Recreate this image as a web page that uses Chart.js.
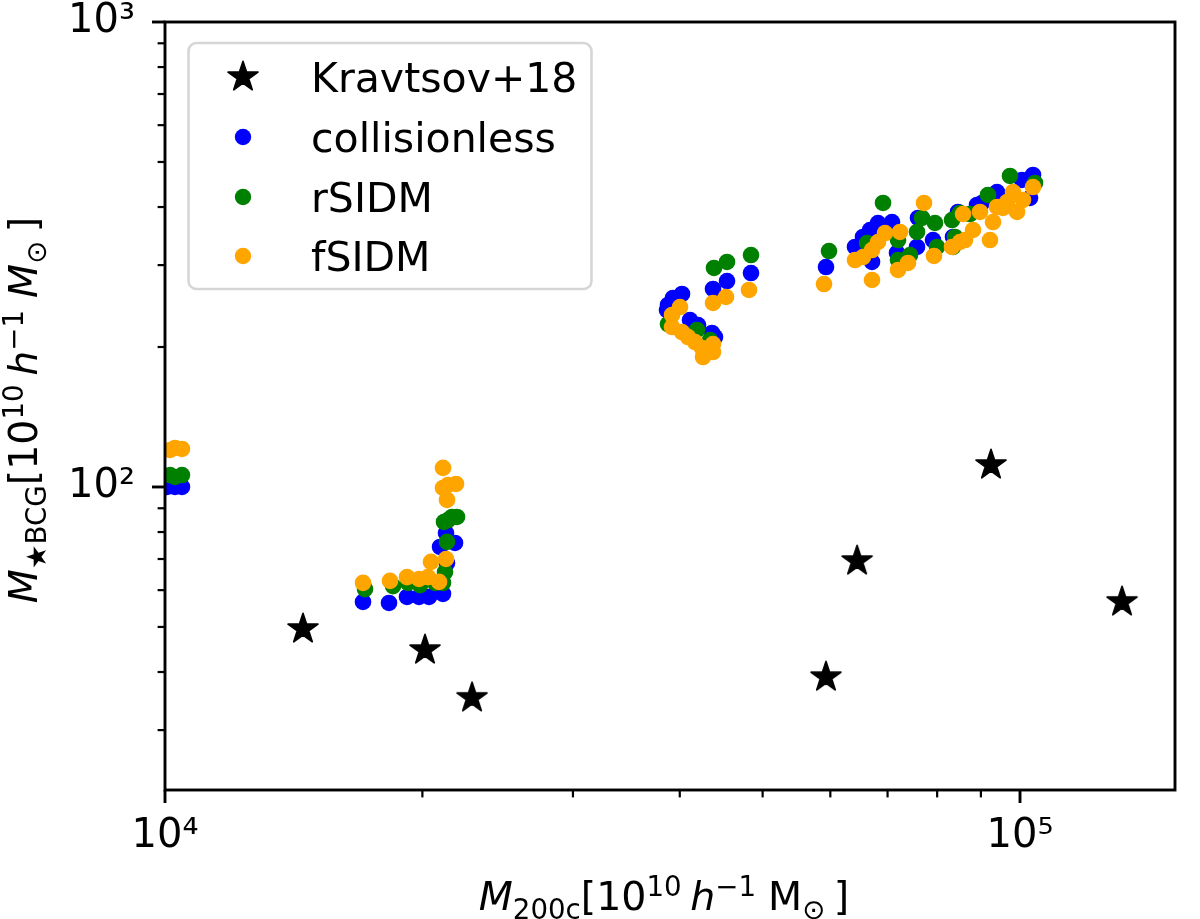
<!DOCTYPE html>
<html>
<head>
<meta charset="utf-8">
<script src="https://cdn.jsdelivr.net/npm/chart.js@4.4.1/dist/chart.umd.min.js"></script>
<style>
html,body{margin:0;padding:0;background:#ffffff;}
#wrap{width:1200px;height:919px;position:relative;}
</style>
</head>
<body>
<div id="wrap"><canvas id="c"></canvas></div>
<script>
// ---------------- data ----------------
const seriesLabels = ['Kravtsov+18', 'collisionless', 'rSIDM', 'fSIDM'];
const seriesColors = ['#000000', '#0000ff', '#008000', '#ffa500'];

const kravtsovX = [14500, 20140, 22860, 59300, 64480, 92480, 131630];
const kravtsovY = [49.5, 44.6, 35.2, 39.0, 69.3, 111.5, 56.6];

const collisionlessX = [10054, 10273, 10468, 17044, 18281, 19189, 19819, 20360, 21142, 20973, 21837, 21314, 21371,
  40242, 39279, 38753, 38649, 41119, 42014, 43628, 43982, 43746, 45427, 48460,
  59306, 64124, 65520, 66767, 68221, 70842, 67128, 71803, 75776, 75981, 79113, 83492, 84623, 89065, 90273, 93994, 100540, 103563, 102730];
const collisionlessY = [100.0, 100.0, 100.0, 56.6, 56.3, 58.0, 58.0, 58.0, 58.9, 74.3, 75.8, 79.6, 68.6,
  260.1, 255.0, 246.3, 240.2, 228.6, 223.0, 214.4, 210.1, 266.6, 277.3, 288.5,
  297.2, 328.2, 344.9, 357.0, 369.6, 371.4, 304.7, 318.6, 328.2, 378.9, 339.7, 344.9, 390.3, 404.1, 408.1, 430.9, 457.3, 468.8, 418.3];

const rSIDMX = [10136, 10273, 10468, 17136, 18479, 19241, 19873, 20691, 21142, 21257, 21371, 21429, 21954, 21661, 21199,
  38753, 41901, 43394, 43864, 45427, 48460,
  59788, 69146, 66230, 71997, 75776, 76804, 79540, 74361, 71997, 79970, 83266, 83942, 85079, 87400, 91744, 97343, 104123, 83492];
const rSIDMY = [106.1, 105.1, 106.1, 60.3, 61.2, 62.2, 61.5, 62.2, 62.2, 65.6, 76.2, 84.9, 86.2, 86.2, 84.1,
  224.1, 217.6, 207.0, 295.8, 304.7, 315.4,
  321.7, 408.1, 334.7, 339.7, 353.5, 378.9, 369.6, 315.4, 307.7, 328.2, 375.1, 344.9, 388.4, 386.4, 424.6, 466.5, 450.6, 328.2];

const fSIDMX = [10136, 10273, 10468, 17044, 18330, 19189, 19819, 20305, 20916, 20470, 21314, 21142, 21142, 21429, 21896, 21371,
  40026, 39173, 39173, 40242, 40898, 41676, 42469, 42584, 43746, 43746, 43746, 45305, 48199,
  58988, 64124, 65520, 67128, 68221, 69519, 72385, 77218, 71997, 73961, 67128, 79326, 83266, 85079, 85769, 88111, 89787,
  92987, 86233, 92238, 93994, 96559, 98133, 100811, 103563, 99195, 95525];
const fSIDMY = [120.1, 121.3, 120.7, 62.2, 62.8, 64.0, 63.4, 64.0, 62.5, 69.0, 70.0, 109.9, 99.5, 101.0, 101.5, 93.8,
  243.8, 234.4, 220.8, 215.4, 210.1, 205.0, 199.0, 190.3, 195.1, 203.0, 248.7, 256.2, 265.3,
  273.2, 307.7, 312.3, 323.3, 336.4, 351.7, 353.5, 408.1, 292.9, 303.2, 278.7, 313.9, 328.2, 336.4, 386.4, 357.0, 390.3,
  371.4, 339.7, 339.7, 400.1, 410.1, 430.9, 414.2, 441.7, 390.3, 398.1];

const xRange = [10000, 151800];
const yRange = [22.3, 1000];
const xMajorTicks = [10000, 100000];
const xMinorTicks = [20000, 30000, 40000, 50000, 60000, 70000, 80000, 90000];
const yMajorTicks = [100, 1000];
const yMinorTicks = [30, 40, 50, 60, 70, 80, 90, 200, 300, 400, 500, 600, 700, 800, 900];
const xTickLabels = {10000: '10\u2074', 100000: '10\u2075'};
const yTickLabels = {100: '10\u00b2', 1000: '10\u00b3'};

// ---------------- helpers ----------------
const FONT = '"DejaVu Sans", "Liberation Sans", sans-serif';
Chart.defaults.font.family = FONT;

function makeStar(R) {
  const size = Math.ceil(R * 2 + 6);
  const c = document.createElement('canvas');
  c.width = size; c.height = size;
  const g = c.getContext('2d');
  g.translate(size / 2, size / 2);
  g.beginPath();
  for (let i = 0; i < 10; i++) {
    const r = i % 2 === 0 ? R : R * 0.381966;
    const a = -Math.PI / 2 + i * Math.PI / 5;
    const px = r * Math.cos(a), py = r * Math.sin(a);
    if (i === 0) g.moveTo(px, py); else g.lineTo(px, py);
  }
  g.closePath();
  g.fillStyle = '#000';
  g.fill();
  g.lineJoin = 'round';
  g.lineWidth = 1.6;
  g.strokeStyle = '#000';
  g.stroke();
  return c;
}
const starImg = makeStar(15.8);

function pts(xs, ys) { return xs.map((x, i) => ({x: x, y: ys[i]})); }

function drawRich(ctx, parts, cx, baseY, size) {
  let total = 0;
  parts.forEach(p => {
    ctx.font = (p.it ? 'italic ' : '') + (size * (p.s || 1)) + 'px ' + FONT;
    p.w = ctx.measureText(p.t).width;
    total += p.w + (p.gap || 0) * size;
  });
  let x = cx - total / 2;
  ctx.textAlign = 'left';
  ctx.textBaseline = 'alphabetic';
  ctx.fillStyle = '#000';
  parts.forEach(p => {
    ctx.font = (p.it ? 'italic ' : '') + (size * (p.s || 1)) + 'px ' + FONT;
    ctx.fillText(p.t, x, baseY - (p.dy || 0) * size);
    x += p.w + (p.gap || 0) * size;
  });
}

const xTitle = [
  {t: 'M', it: true},
  {t: '200c', s: 0.7, dy: -0.22},
  {t: '[10'},
  {t: '10', s: 0.7, dy: 0.36, gap: 0.22},
  {t: 'h', it: true},
  {t: '\u22121', s: 0.7, dy: 0.36, gap: 0.3},
  {t: 'M'},
  {t: '\u2299', s: 0.7, dy: -0.22, gap: 0.22},
  {t: ']'}
];
const yTitle = [
  {t: 'M', it: true},
  {t: '\u2605BCG', s: 0.7, dy: -0.22},
  {t: '[10'},
  {t: '10', s: 0.7, dy: 0.36, gap: 0.22},
  {t: 'h', it: true},
  {t: '\u22121', s: 0.7, dy: 0.36, gap: 0.3},
  {t: 'M', it: true},
  {t: '\u2299', s: 0.7, dy: -0.22, gap: 0.22},
  {t: ']'}
];

const decorPlugin = {
  id: 'decor',
  afterDraw(chart) {
    const {ctx, chartArea: a} = chart;
    const xs = chart.scales.x, ys = chart.scales.y;
    ctx.save();
    ctx.strokeStyle = '#000';
    ctx.lineCap = 'butt';
    // ticks
    const tick = (scale, vals, horiz, len, lw) => {
      ctx.lineWidth = lw;
      vals.forEach(v => {
        const p = scale.getPixelForValue(v);
        ctx.beginPath();
        if (horiz) { ctx.moveTo(p, a.bottom); ctx.lineTo(p, a.bottom + len); }
        else { ctx.moveTo(a.left, p); ctx.lineTo(a.left - len, p); }
        ctx.stroke();
      });
    };
    tick(xs, xMinorTicks, true, 7.4, 2.2);
    tick(xs, xMajorTicks, true, 13, 2.9);
    tick(ys, yMinorTicks, false, 7.4, 2.2);
    tick(ys, yMajorTicks, false, 13, 2.9);
    // frame
    ctx.lineWidth = 2.9;
    ctx.strokeRect(a.left, a.top, a.right - a.left, a.bottom - a.top);

    // axis titles
    drawRich(ctx, xTitle, (a.left + a.right) / 2 - 6, 910, 39.5);
    ctx.save();
    ctx.translate(37, (a.top + a.bottom) / 2 + 4);
    ctx.rotate(-Math.PI / 2);
    drawRich(ctx, yTitle, 0, 0, 39.5);
    ctx.restore();

    // legend
    const bx = 188.5, by = 43, bw = 403, bh = 246, r = 8;
    ctx.beginPath();
    ctx.moveTo(bx + r, by);
    ctx.lineTo(bx + bw - r, by); ctx.arcTo(bx + bw, by, bx + bw, by + r, r);
    ctx.lineTo(bx + bw, by + bh - r); ctx.arcTo(bx + bw, by + bh, bx + bw - r, by + bh, r);
    ctx.lineTo(bx + r, by + bh); ctx.arcTo(bx, by + bh, bx, by + bh - r, r);
    ctx.lineTo(bx, by + r); ctx.arcTo(bx, by, bx + r, by, r);
    ctx.closePath();
    ctx.fillStyle = 'rgba(255,255,255,0.8)';
    ctx.fill();
    ctx.lineWidth = 2.6;
    ctx.strokeStyle = '#d6d6d6';
    ctx.stroke();

    const rowY = [77, 137, 197, 256];
    chart.data.datasets.forEach((ds, i) => {
      const yy = rowY[i];
      if (i === 0) {
        ctx.drawImage(starImg, 243 - starImg.width / 2, yy - starImg.height / 2);
      } else {
        ctx.beginPath();
        ctx.arc(243, yy, 8.2, 0, Math.PI * 2);
        ctx.fillStyle = ds.backgroundColor;
        ctx.fill();
      }
      ctx.fillStyle = '#000';
      ctx.font = '41px ' + FONT;
      ctx.textAlign = 'left';
      ctx.textBaseline = 'alphabetic';
      ctx.fillText(ds.label, 311, yy + 15);
    });
    ctx.restore();
  }
};

const dotDs = (i, xs, ys, order) => ({
  label: seriesLabels[i],
  data: pts(xs, ys),
  backgroundColor: seriesColors[i],
  borderColor: seriesColors[i],
  borderWidth: 0,
  pointRadius: 8.3,
  pointHoverRadius: 8.3,
  clip: 0,
  order: order
});

const noPad = s => { s.paddingTop = 0; s.paddingBottom = 0; s.paddingLeft = 0; s.paddingRight = 0; };

new Chart(document.getElementById('c'), {
  type: 'scatter',
  data: {
    datasets: [
      {
        label: seriesLabels[0],
        data: pts(kravtsovX, kravtsovY),
        pointStyle: starImg,
        pointRadius: 16,
        backgroundColor: seriesColors[0],
        borderColor: seriesColors[0],
        clip: 0,
        order: 4
      },
      dotDs(1, collisionlessX, collisionlessY, 3),
      dotDs(2, rSIDMX, rSIDMY, 2),
      dotDs(3, fSIDMX, fSIDMY, 1)
    ]
  },
  options: {
    responsive: true,
    maintainAspectRatio: false,
    animation: false,
    events: [],
    layout: {padding: {top: 22, right: 25, left: 0, bottom: 0}},
    plugins: {legend: {display: false}, tooltip: {enabled: false}},
    scales: {
      x: {
        type: 'logarithmic',
        position: 'bottom',
        min: xRange[0], max: xRange[1],
        grid: {display: false, drawTicks: false},
        border: {display: false},
        ticks: {
          autoSkip: false, maxRotation: 0, minRotation: 0,
          padding: 23,
          color: '#000',
          font: {family: FONT, size: 40},
          callback: v => xTickLabels[Math.round(v)] || ''
        },
        afterFit: s => { s.height = 129; noPad(s); }
      },
      y: {
        type: 'logarithmic',
        position: 'left',
        min: yRange[0], max: yRange[1],
        grid: {display: false, drawTicks: false},
        border: {display: false},
        ticks: {
          autoSkip: false,
          padding: 30,
          color: '#000',
          font: {family: FONT, size: 40},
          callback: v => yTickLabels[Math.round(v)] || ''
        },
        afterFit: s => { s.width = 165; noPad(s); }
      }
    }
  },
  plugins: [decorPlugin]
});
</script>
</body>
</html>
